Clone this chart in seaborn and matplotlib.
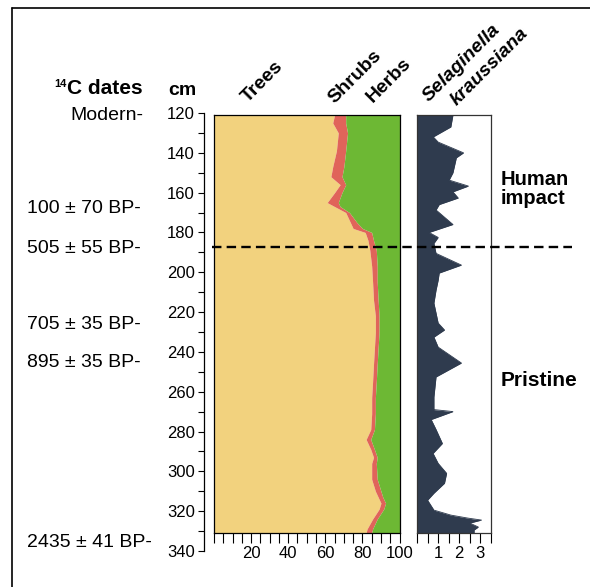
import numpy as np
import seaborn as sns
import matplotlib.pyplot as plt
from matplotlib.lines import Line2D
from matplotlib.transforms import blended_transform_factory
from matplotlib.ticker import MultipleLocator

sns.set_theme(style='white')
plt.rcParams['font.family'] = ['Liberation Sans', 'DejaVu Sans']
plt.rcParams['text.color'] = 'black'
plt.rcParams['xtick.color'] = 'black'
plt.rcParams['ytick.color'] = 'black'
plt.rcParams['axes.labelcolor'] = 'black'

# pollen diagram, depth in cm, percentages
depth_cm = [121, 125, 130, 139, 147, 152, 156, 160, 165, 167, 170, 175, 178, 180,
            184, 189, 197, 205, 214, 222, 230, 238, 246, 255, 263, 271, 279, 284,
            289, 293, 296, 304, 310, 313, 316, 319, 324, 329, 331]
trees_pct = [65, 64, 67, 66, 64, 63, 68, 65, 61, 65, 71, 73.5, 75, 81.5,
             83, 84, 85, 85.5, 86, 87, 87, 86.5, 86, 85.5, 85, 85, 84.5, 82,
             84.5, 86, 85, 85, 87, 88.5, 90, 89, 85.5, 82.5, 82]
shrubs_pct = [6, 7, 5, 5, 6, 6, 3, 4, 6, 3, 2, 3.5, 5, 3.5,
              3, 3.5, 3, 2.5, 2.5, 2, 2, 2, 2, 2, 2, 2, 2, 2.5,
              2, 2, 2.5, 3, 3, 2.5, 2.5, 2.5, 2.5, 3, 3]

# Selaginella kraussiana
sel_depth = [121, 127, 132, 134.6, 140, 142.5, 150, 153.7, 156.7, 159.6, 162.7, 166,
             168.7, 176, 180, 182.5, 185.5, 190.5, 196.4, 200.4, 204, 209, 215.5,
             220.5, 225.5, 229, 232.6, 237.6, 245.6, 252.6, 262.7, 269, 270, 274,
             279, 286, 291, 296, 301, 306, 311, 314.5, 319.5, 322, 323.5, 324.5,
             326, 328, 329.5, 331]
sel_val = [1.7, 1.6, 0.77, 1.0, 2.2, 1.86, 1.7, 1.52, 2.43, 1.7, 1.95, 1.05,
           0.9, 1.7, 0.57, 1.0, 0.8, 0.9, 2.1, 1.05, 1.0, 0.9, 0.8,
           0.9, 1.0, 1.3, 0.8, 1.0, 2.1, 0.9, 0.8, 0.8, 1.7, 0.67,
           0.9, 1.2, 0.76, 1.0, 1.4, 1.3, 0.8, 0.5, 0.8, 1.6, 2.4, 3.05,
           2.5, 2.9, 2.7, 2.7]

date_labels = ['Modern-', '100 \u00b1 70 BP-', '505 \u00b1 55 BP-', '705 \u00b1 35 BP-',
               '895 \u00b1 35 BP-', '2435 \u00b1 41 BP-']
date_depth = [121.5, 168, 188, 226.3, 245.4, 335.6]
boundary_cm = 187.3

ORANGE = '#f2d27e'
RED = '#e0645a'
GREEN = '#6db834'
NAVY = '#2f3b4e'

W, H = 590, 587
def fx(px):
    return px / W
def fy(py):
    return 1 - py / H

fig = plt.figure(figsize=(W / 100, H / 100), dpi=100)

# depth axis
ax_d = fig.add_axes([fx(204), fy(551), 0.01, fy(113) - fy(551)])
ax_d.set_ylim(340, 120)
ax_d.set_xticks([])
for s in ['top', 'right', 'bottom']:
    ax_d.spines[s].set_visible(False)
ax_d.spines['left'].set_linewidth(0.9)
ax_d.spines['left'].set_color('black')
ax_d.yaxis.set_major_locator(MultipleLocator(20))
ax_d.yaxis.set_minor_locator(MultipleLocator(10))
ax_d.tick_params(axis='y', which='both', left=True, direction='out', length=4.5,
                 width=0.8, color='black', labelsize=12, pad=2)
ax_d.patch.set_alpha(0)

# pollen panel
ax1 = fig.add_axes([fx(214), fy(533), fx(399.5) - fx(214), fy(115) - fy(533)])
d = np.array(depth_cm)
t = np.array(trees_pct)
ts = t + np.array(shrubs_pct)
ax1.fill_betweenx(d, 0, t, color=ORANGE, lw=0)
ax1.fill_betweenx(d, t, ts, color=RED, lw=0)
ax1.fill_betweenx(d, ts, 100, color=GREEN, lw=0)
ax1.set_xlim(0, 100)
ax1.set_ylim(331, 121)
ax1.set_yticks([])
ax1.xaxis.set_major_locator(MultipleLocator(20))
ax1.xaxis.set_minor_locator(MultipleLocator(5))
ax1.set_xticks([20, 40, 60, 80, 100])
ax1.tick_params(axis='x', which='both', bottom=True, direction='out', length=7,
                width=0.8, color='black', labelsize=12, pad=2)
for s in ax1.spines.values():
    s.set_linewidth(0.9)
    s.set_color('black')

# Selaginella panel
ax2 = fig.add_axes([fx(417), fy(533), fx(491) - fx(417), fy(115) - fy(533)])
ax2.fill_betweenx(sel_depth, 0, sel_val, color=NAVY, lw=0)
sns.lineplot(x=sel_val, y=sel_depth, orient='y', sort=False, color=NAVY, lw=0.6, ax=ax2)
ax2.set_xlim(0, 3.5)
ax2.set_ylim(331, 121)
ax2.set_yticks([])
ax2.set_xticks([1, 2, 3])
ax2.xaxis.set_minor_locator(MultipleLocator(0.5))
ax2.tick_params(axis='x', which='both', bottom=True, direction='out', length=7,
                width=0.8, color='black', labelsize=12, pad=2)
ax2.set_xlabel('')
ax2.set_ylabel('')
for s in ax2.spines.values():
    s.set_linewidth(0.9)
    s.set_color('#333333')

# boundary line across panels
tr = blended_transform_factory(fig.transFigure, ax_d.transData)
fig.add_artist(Line2D([fx(212), fx(572)], [boundary_cm, boundary_cm], transform=tr,
                      color='black', lw=1.7, ls=(0, (4, 2.2)), zorder=10))

# date labels
for lab, dep in zip(date_labels, date_depth):
    if lab.startswith('Modern'):
        fig.text(fx(143), dep, lab, transform=tr, ha='right', va='center', fontsize=14)
    else:
        fig.text(fx(27), dep, lab, transform=tr, ha='left', va='center', fontsize=14)

# headings
fig.text(fx(67), fy(94), 'C dates', ha='left', va='baseline', fontsize=15, fontweight='bold')
fig.text(fx(67), fy(79), '14', ha='right', va='top', fontsize=8, fontweight='bold')
fig.text(fx(182), fy(95), 'cm', ha='center', va='baseline', fontsize=14, fontweight='bold')

rot = dict(rotation=45, rotation_mode='anchor', ha='left', va='baseline', fontweight='bold')
fig.text(fx(248), fy(103), 'Trees', fontsize=14, **rot)
fig.text(fx(334), fy(104), 'Shrubs', fontsize=14, **rot)
fig.text(fx(373), fy(103), 'Herbs', fontsize=14, **rot)
fig.text(fx(429), fy(102), 'Selaginella', fontsize=14, style='italic', **rot)
fig.text(fx(457), fy(106), 'kraussiana', fontsize=14, style='italic', **rot)

fig.text(fx(501), fy(189), 'Human\nimpact', ha='left', va='center', fontsize=14.5,
         fontweight='bold', linespacing=1.0)
fig.text(fx(501), fy(381), 'Pristine', ha='left', va='center', fontsize=15, fontweight='bold')

# outer frame (top and left edges only visible)
fig.add_artist(Line2D([fx(12), 1], [fy(8), fy(8)], color='black', lw=1.2))
fig.add_artist(Line2D([fx(12), fx(12)], [fy(8), 0], color='black', lw=1.2))

fig.savefig('out.png', dpi=100)
